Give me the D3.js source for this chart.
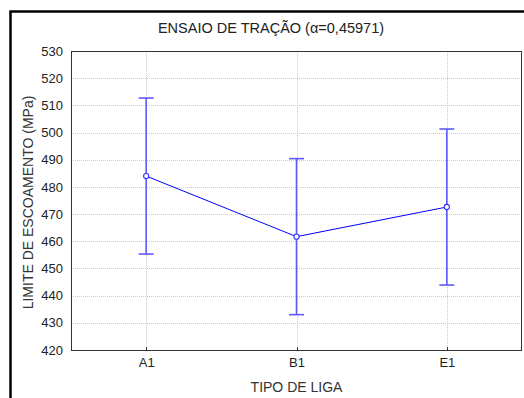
<!DOCTYPE html>
<html>
<head>
<meta charset="utf-8">
<script src="https://cdn.jsdelivr.net/npm/d3@7"></script>
<style>
body { margin: 0; background: #fff; }
svg { display: block; font-family: "Liberation Sans", Arial, sans-serif; }
</style>
</head>
<body>
<div id="body"></div>
<script>
// data
let ligas = ['A1', 'B1', 'E1']
let medias = [484.0, 461.7, 472.6]
let inferior = [455.3, 433.0, 443.9]
let superior = [512.7, 490.4, 501.3]
let yTicks = [420, 430, 440, 450, 460, 470, 480, 490, 500, 510, 520, 530]

let size = {
  width: 524,
  height: 398,
  margin: { left: 71, right: 2, top: 51, bottom: 48 }
}

let svg = d3.select('#body')
  .append('svg')
  .attr('width', size.width)
  .attr('height', size.height)

// outer frame (clipped at right and bottom)
svg.append('path')
  .attr('d', `M10.5,${size.height + 5} V11.5 H${size.width + 5}`)
  .attr('fill', 'none')
  .attr('stroke', '#000')
  .attr('stroke-width', 2.5)

let xScale = d3.scalePoint()
  .domain(ligas)
  .range([size.margin.left, size.width - size.margin.right])
  .padding(0.5)

let yScale = d3.scaleLinear()
  .domain([420, 530])
  .range([size.height - size.margin.bottom, size.margin.top])

// grid
let grid = svg.append('g')
grid.selectAll('.hgrid')
  .data(yTicks.slice(1, -1))
  .join('line')
  .attr('x1', size.margin.left)
  .attr('x2', size.width - size.margin.right)
  .attr('y1', d => Math.round(yScale(d)) + 0.5)
  .attr('y2', d => Math.round(yScale(d)) + 0.5)
  .attr('stroke', '#cccccc')
  .attr('stroke-dasharray', '1,1')
grid.selectAll('.vgrid')
  .data(ligas)
  .join('line')
  .attr('x1', d => Math.round(xScale(d)) + 0.5)
  .attr('x2', d => Math.round(xScale(d)) + 0.5)
  .attr('y1', size.margin.top)
  .attr('y2', size.height - size.margin.bottom)
  .attr('stroke', '#cccccc')
  .attr('stroke-dasharray', '1,1')

// axes
let yAxis = d3.axisLeft(yScale).tickValues(yTicks).tickSize(0).tickPadding(8)
let xAxis = d3.axisBottom(xScale).tickSize(0).tickPadding(8)

let gY = svg.append('g')
  .attr('transform', `translate(${size.margin.left},0)`)
  .call(yAxis)
let gX = svg.append('g')
  .attr('transform', `translate(0,${size.height - size.margin.bottom})`)
  .call(xAxis)
svg.selectAll('.domain').remove()
svg.selectAll('.tick text')
  .attr('font-size', 13)
  .attr('font-family', '"Liberation Sans", Arial, sans-serif')
  .attr('fill', '#222')

// plot box
svg.append('rect')
  .attr('x', size.margin.left + 0.5)
  .attr('y', size.margin.top + 0.5)
  .attr('width', size.width - size.margin.left - size.margin.right - 1)
  .attr('height', size.height - size.margin.top - size.margin.bottom)
  .attr('fill', 'none')
  .attr('stroke', '#333')
  .attr('stroke-width', 1)

// small inner ticks at categories
svg.append('g').selectAll('line')
  .data(ligas)
  .join('line')
  .attr('x1', d => Math.round(xScale(d)) + 0.5)
  .attr('x2', d => Math.round(xScale(d)) + 0.5)
  .attr('y1', size.height - size.margin.bottom)
  .attr('y2', size.height - size.margin.bottom - 3)
  .attr('stroke', '#333')

// labels
svg.append('text')
  .attr('x', 271)
  .attr('y', 33)
  .attr('text-anchor', 'middle')
  .attr('font-size', 14.5)
  .attr('fill', '#222')
  .text('ENSAIO DE TRAÇÃO (α=0,45971)')

svg.append('text')
  .attr('x', (size.margin.left + size.width - size.margin.right) / 2)
  .attr('y', 392)
  .attr('text-anchor', 'middle')
  .attr('font-size', 14)
  .attr('fill', '#333')
  .text('TIPO DE LIGA')

svg.append('text')
  .attr('transform', `translate(33,${(size.margin.top + size.height - size.margin.bottom) / 2 + 2}) rotate(-90)`)
  .attr('text-anchor', 'middle')
  .attr('font-size', 14)
  .attr('fill', '#333')
  .text('LIMITE DE ESCOAMENTO (MPa)')

// error bars
let data = ligas.map((d, i) => ({ liga: d, media: medias[i], lo: inferior[i], hi: superior[i] }))
let bars = svg.append('g')
  .attr('stroke', '#5b5bff')
  .attr('stroke-width', 1.6)
bars.selectAll('.stem')
  .data(data)
  .join('line')
  .attr('x1', d => xScale(d.liga))
  .attr('x2', d => xScale(d.liga))
  .attr('y1', d => yScale(d.lo))
  .attr('y2', d => yScale(d.hi))
bars.selectAll('.capHi')
  .data(data)
  .join('line')
  .attr('x1', d => xScale(d.liga) - 7.5)
  .attr('x2', d => xScale(d.liga) + 7.5)
  .attr('y1', d => yScale(d.hi))
  .attr('y2', d => yScale(d.hi))
bars.selectAll('.capLo')
  .data(data)
  .join('line')
  .attr('x1', d => xScale(d.liga) - 7.5)
  .attr('x2', d => xScale(d.liga) + 7.5)
  .attr('y1', d => yScale(d.lo))
  .attr('y2', d => yScale(d.lo))

// mean line
let line = d3.line()
  .x(d => xScale(d.liga))
  .y(d => yScale(d.media))
svg.append('path')
  .datum(data)
  .attr('d', line)
  .attr('fill', 'none')
  .attr('stroke', '#0000ff')
  .attr('stroke-width', 1)

svg.append('g').selectAll('circle')
  .data(data)
  .join('circle')
  .attr('cx', d => xScale(d.liga))
  .attr('cy', d => yScale(d.media))
  .attr('r', 2.6)
  .attr('fill', '#fff')
  .attr('stroke', '#3333ff')
  .attr('stroke-width', 1.1)
</script>
</body>
</html>
